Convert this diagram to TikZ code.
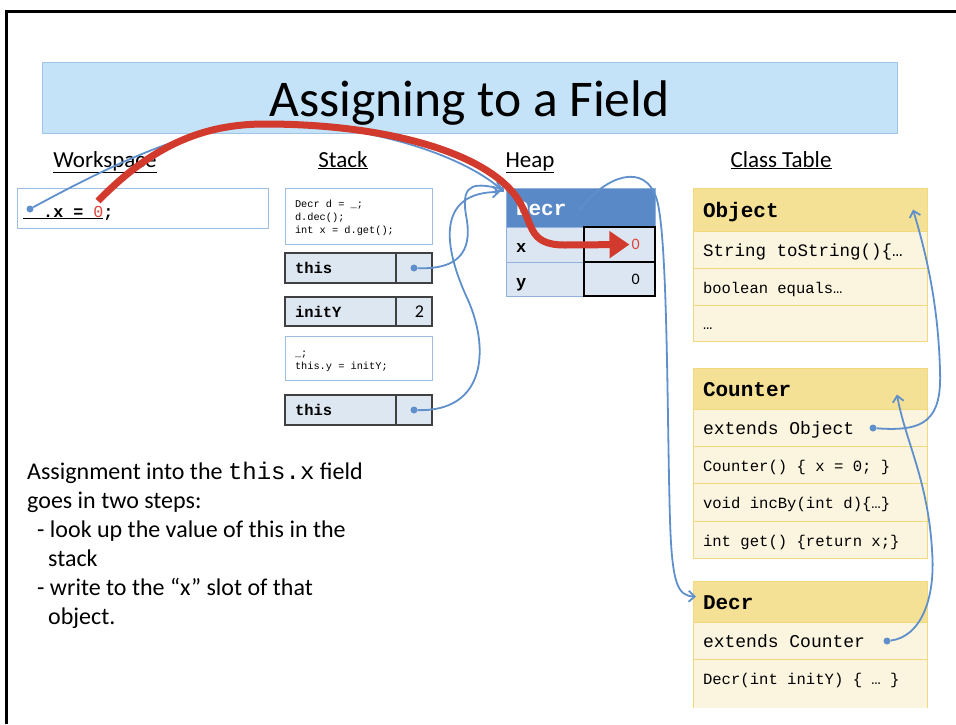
\documentclass[tikz,border=0pt]{standalone}
\usepackage{fontspec}
\setmainfont{Carlito}
\setmonofont{Liberation Mono}
\usepackage{xcolor}
\usepackage{tikz}
\usetikzlibrary{positioning, arrows.meta, calc}
\newcommand{\fsz}[2]{\fontsize{#1}{#2}\selectfont}
\definecolor{titlefill}{HTML}{C4E2F8}
\definecolor{titleline}{HTML}{9EC5E8}
\definecolor{codeline}{HTML}{9DBDE3}
\definecolor{slotfill}{HTML}{DDE7F1}
\definecolor{heaphead}{HTML}{5A89C8}
\definecolor{heaprow}{HTML}{DCE6F2}
\definecolor{heapline}{HTML}{8FB1DB}
\definecolor{clshead}{HTML}{F5E196}
\definecolor{clsrow}{HTML}{FBF4DF}
\definecolor{clsline}{HTML}{F2D97E}
\definecolor{refblue}{HTML}{5F90CC}
\definecolor{movered}{HTML}{D13A2C}
\definecolor{valred}{HTML}{E0433A}

\begin{document}
\begin{tikzpicture}[x=1pt, y=-1pt,
  head/.style={font=\fsz{23}{23}, inner sep=0pt, anchor=base},
  box/.style={anchor=north west, outer sep=0pt, inner sep=0pt,
    inner xsep=10pt, align=left,
    execute at begin node={\spaceskip=0pt\xspaceskip=0pt\relax}},
  codebox/.style={box, draw=codeline, fill=white, line width=1pt},
  slot/.style={box, draw=black!75, fill=slotfill, line width=1.3pt,
    minimum width=111pt, minimum height=30pt, text width=91pt,
    text height=15pt, text depth=4pt,
    font=\ttfamily\bfseries\fsz{15.5}{18}},
  slotval/.style={box, draw=black!75, fill=slotfill, line width=1.3pt,
    minimum width=36pt, minimum height=30pt, inner xsep=8pt,
    text width=20pt, align=right, font=\fsz{18}{18}},
  heaphd/.style={box, draw=heapline, fill=heaphead, text=white,
    minimum width=149pt, minimum height=39pt, text width=129pt,
    text height=19pt, text depth=3pt,
    font=\ttfamily\bfseries\fsz{21}{21}},
  heaplbl/.style={box, draw=heapline, fill=heaprow, minimum width=78pt,
    text width=58pt, text height=20pt, text depth=4pt,
    font=\ttfamily\bfseries\fsz{17}{17}},
  heapval/.style={box, draw=black, fill=heaprow, line width=2.5pt,
    minimum width=71pt},
  valtxt/.style={anchor=east, inner sep=2pt, font=\fsz{16}{16}},
  clshd/.style={box, draw=clsline, fill=clshead, line width=1pt,
    minimum width=234pt, text width=214pt, text height=19pt, text depth=3pt,
    font=\ttfamily\bfseries\fsz{21}{21}},
  clsrow/.style={box, draw=clsline, fill=clsrow, line width=1pt,
    minimum width=234pt, minimum height=37pt, text width=214pt,
    text height=16pt, text depth=3pt},
  dot/.style={circle, fill=refblue, inner sep=0pt, minimum size=7pt},
  ref/.style={draw=refblue, line width=1.8pt,
    -{Straight Barb[length=6pt,width=11pt]}},
  move/.style={draw=movered, line width=7pt,
    -{Triangle[length=20pt,width=26pt]}}
]
\useasboundingbox (0,0) rectangle (956,724);

% Slide frame and title
\draw[line width=3pt] (6,724) -- (6,11) -- (956,11);
\node[draw=titleline, fill=titlefill, anchor=north west, minimum width=855pt,
  minimum height=71pt, inner sep=0pt, text height=44pt, text depth=7pt,
  font=\fsz{51.5}{51.5}] (title) at (42,62) {Assigning to a Field};

% Section headers
\node[head] (ws head) at (105,167) {\underline{Workspace}};
\node[head] (stack head) at (343,167) {\underline{Stack}};
\node[head] (heap head) at (530,167) {\underline{Heap}};
\node[head] (cls head) at (781,167) {\underline{Class Table}};

% Workspace
\node[codebox, minimum width=251pt, minimum height=40pt] (ws) at (17,188) {};
\node[anchor=base west, inner sep=0pt, font=\ttfamily\bfseries\fsz{16.7}{16.7}]
  (ws code) at (23,217)
  {\underline{\hphantom{..}.x\ =\ {\color{valred}\mdseries 0}};};
\node[dot] (ws dot) at (30,209) {};
\coordinate (ws zero) at (98,201);

% Stack
\node[codebox, minimum width=147pt, minimum height=56pt, text width=127pt,
  text height=10pt, text depth=28pt, font=\ttfamily\fsz{10.3}{13}] (frame1)
  at (285,188) {Decr d = \_;\\ d.dec();\\ int x = d.get();};
\node[slot] (this1) at (285,253) {this};
\node[slotval] (this1 val) at (this1.north east) {};
\node[slot, minimum height=29pt] (inity) at (285,297) {initY};
\node[slotval, minimum height=29pt] (inity val) at (inity.north east) {2};
\node[codebox, minimum width=147pt, minimum height=44pt, text width=127pt,
  text height=10pt, text depth=14pt, font=\ttfamily\fsz{10.3}{13}] (frame2)
  at (285,336) {\_;\\ this.y = initY;};
\node[slot] (this2) at (285,395) {this};
\node[slotval] (this2 val) at (this2.north east) {};
\node[dot] (this1 dot) at (this1 val.center) {};
\node[dot] (this2 dot) at (this2 val.center) {};

% Heap
\node[heaphd] (decr obj) at (506,188) {Decr};
\node[heaplbl, minimum height=35pt] (hx lbl) at (decr obj.south west) {x};
\node[heaplbl, minimum height=34pt] (hy lbl) at (hx lbl.south west) {y};
\node[heapval, minimum height=35pt] (hx val) at (hx lbl.north east) {};
\node[heapval, minimum height=34pt] (hy val) at (hy lbl.north east) {};
\node[valtxt, text=valred] (x zero) at ([xshift=-13pt]hx val.east) {0};
\node[valtxt] (y zero) at ([xshift=-13pt]hy val.east) {0};
\node[dot, minimum size=4pt] (decr dot) at (581,208) {};

% Class table
\node[clshd, minimum height=43pt] (obj hd) at (693,188) {Object};
\node[clsrow, font=\ttfamily\fsz{17.5}{17.5}] (obj r1) at (obj hd.south west)
  {String toString()\{…};
\node[clsrow, font=\ttfamily\fsz{15.5}{15.5}] (obj r2) at (obj r1.south west)
  {boolean equals…};
\node[clsrow, minimum height=36pt, font=\ttfamily\fsz{15.5}{15.5}] (obj r3)
  at (obj r2.south west) {…};

\node[clshd, minimum height=41pt] (cnt hd) at (693,368) {Counter};
\node[clsrow, font=\ttfamily\fsz{18}{18}] (cnt r1) at (cnt hd.south west)
  {extends Object};
\node[clsrow, font=\ttfamily\fsz{15.6}{15.6}] (cnt r2) at (cnt r1.south west)
  {Counter() \{ x = 0; \}};
\node[clsrow, minimum height=38pt, font=\ttfamily\fsz{15.6}{15.6}] (cnt r3)
  at (cnt r2.south west) {void incBy(int d)\{…\}};
\node[clsrow, font=\ttfamily\fsz{15.6}{15.6}] (cnt r4) at (cnt r3.south west)
  {int get() \{return x;\}};

\node[clshd, minimum height=41pt] (decr cls) at (693,581) {Decr};
\node[clsrow, font=\ttfamily\fsz{18}{18}] (decr r1) at (decr cls.south west)
  {extends Counter};
\node[clsrow, font=\ttfamily\fsz{15.6}{15.6}] (decr r2) at (decr r1.south west)
  {Decr(int initY) \{ … \}};
\node[clsrow, draw=none, minimum height=12pt, text height=0pt, text depth=0pt]
  (decr tail) at (decr r2.south west) {};
\draw[clsline, line width=1pt] (decr tail.north west) -- (decr tail.south west)
  (decr tail.north east) -- (decr tail.south east);
\node[dot] (obj dot) at (873,428) {};
\node[dot] (cnt dot) at (887,641) {};

% Note
\node[anchor=north west, align=left, inner sep=0pt, font=\fsz{24}{29}]
  (note) at (27,462)
  {Assignment into the \texttt{this.x} field\\
   goes in two steps:\\
   \hspace*{10pt}- look up the value of this in the\\
   \hspace*{21pt}stack\\
   \hspace*{10pt}- write to the “x” slot of that\\
   \hspace*{21pt}object.};

% References
\draw[ref] (ws dot) .. controls (120,160) and (200,124) .. (265,124)
  .. controls (380,124) and (470,160) .. ([xshift=-2pt,yshift=-4pt]decr obj.north west);
\draw[ref] (this1 dot) .. controls (465,270) and (472,245) .. (466,215)
  .. controls (460,180) and (478,184) .. ([xshift=-3pt,yshift=-1pt]decr obj.north west);
\draw[ref] (this2 dot) .. controls (485,412) and (490,350) .. (468,300)
  .. controls (440,240) and (440,192) .. ([xshift=-6pt,yshift=-4pt]decr obj.north west);
\draw[ref] (decr dot) .. controls (605,178) and (645,160) .. (657,200)
  .. controls (668,240) and (667,420) .. (670,520)
  .. controls (672,585) and (678,596) .. ([xshift=3pt,yshift=5pt]decr cls.west);
\draw[ref] (obj dot) .. controls (925,432) and (942,420) .. (940,370)
  .. controls (938,300) and (925,250) .. ([xshift=-14pt]obj hd.east);
\draw[ref] (cnt dot) .. controls (920,637) and (936,600) .. (932,550)
  .. controls (928,480) and (905,440) .. ([xshift=-30pt,yshift=-6pt]cnt hd.east);

% Assignment
\draw[move] (ws zero) .. controls (150,148) and (200,124) .. (265,124)
  .. controls (380,124) and (480,150) .. (515,195)
  .. controls (535,222) and (525,245) .. (565,245) -- (x zero.west);

\end{tikzpicture}
\end{document}
